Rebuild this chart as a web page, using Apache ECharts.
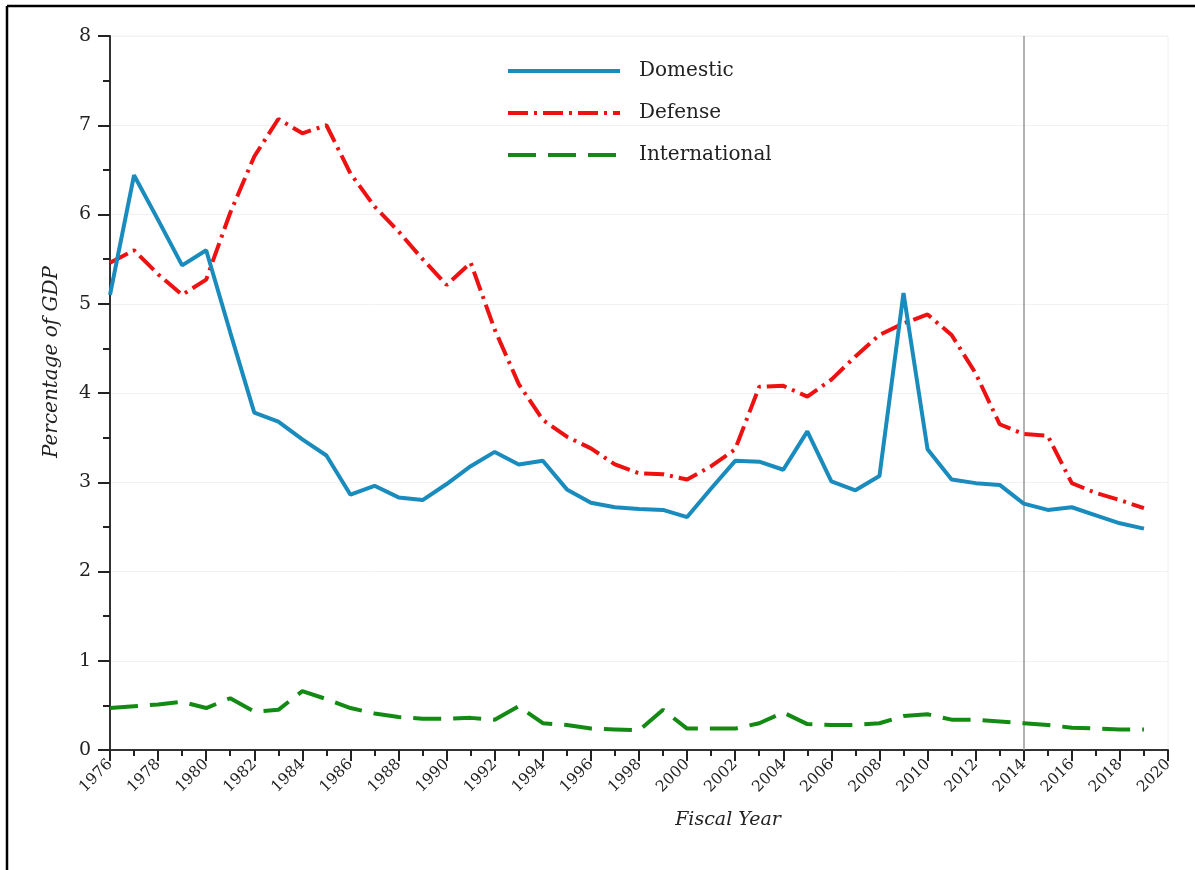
<!DOCTYPE html>
<html>
<head>
<meta charset="utf-8">
<script src="https://cdn.jsdelivr.net/npm/echarts@6/dist/echarts.min.js"></script>
<style>
html,body{margin:0;padding:0;background:#fff;}
#chart{width:1195px;height:870px;}
</style>
</head>
<body>
<div id="chart"></div>
<script>
const years = [1976,1977,1978,1979,1980,1981,1982,1983,1984,1985,1986,1987,1988,1989,1990,1991,1992,1993,1994,1995,1996,1997,1998,1999,2000,2001,2002,2003,2004,2005,2006,2007,2008,2009,2010,2011,2012,2013,2014,2015,2016,2017,2018,2019];
const domestic = [5.10,6.44,5.94,5.43,5.60,4.68,3.78,3.68,3.48,3.30,2.86,2.96,2.83,2.80,2.98,3.18,3.34,3.20,3.24,2.92,2.77,2.72,2.70,2.69,2.61,2.93,3.24,3.23,3.14,3.57,3.01,2.91,3.07,5.12,3.37,3.03,2.99,2.97,2.76,2.69,2.72,2.63,2.54,2.48];
const defense = [5.46,5.60,5.33,5.10,5.27,6.02,6.65,7.07,6.91,7.00,6.46,6.09,5.81,5.50,5.21,5.46,4.71,4.10,3.70,3.51,3.38,3.20,3.10,3.09,3.03,3.18,3.37,4.07,4.08,3.96,4.15,4.41,4.65,4.78,4.88,4.65,4.22,3.65,3.54,3.52,2.99,2.88,2.80,2.71];
const international = [0.47,0.49,0.51,0.54,0.47,0.58,0.43,0.45,0.66,0.57,0.47,0.41,0.37,0.35,0.35,0.36,0.34,0.49,0.30,0.28,0.24,0.23,0.22,0.45,0.24,0.24,0.24,0.30,0.42,0.29,0.28,0.28,0.30,0.38,0.40,0.34,0.34,0.32,0.30,0.28,0.25,0.24,0.23,0.23];
const seriesNames = ['Domestic','Defense','International'];
const referenceYear = 2014;
const xTitle = 'Fiscal Year';
const yTitle = 'Percentage of GDP';

const FONT = 'DejaVu Serif';
const pairs = arr => years.map((y,i)=>[y, arr[i]]);

const chart = echarts.init(document.getElementById('chart'), null, {renderer:'canvas'});
chart.setOption({
  animation:false,
  backgroundColor:'#fff',
  grid:{left:110,right:27,top:36,bottom:120,show:true,borderColor:'#f0f0f0',borderWidth:1},
  legend:{
    orient:'vertical',
    left:501, top:56,
    itemWidth:112, itemHeight:20, itemGap:22,
    itemStyle:{opacity:0},
    lineStyle:{width:4},
    textStyle:{fontFamily:FONT,fontSize:20,color:'#222',padding:[0,0,0,14]},
    data:seriesNames
  },
  xAxis:{
    type:'value', min:1976, max:2020, interval:2,
    axisLine:{show:true,lineStyle:{color:'#333',width:2}},
    axisTick:{show:true,length:11,lineStyle:{color:'#222',width:2}},
    minorTick:{show:true,splitNumber:2,length:6,lineStyle:{color:'#222',width:2}},
    splitLine:{show:false},
    axisLabel:{rotate:45,margin:12,fontFamily:FONT,fontSize:15.5,color:'#222',formatter:v=>String(v)}
  },
  yAxis:{
    type:'value', min:0, max:8, interval:1,
    axisLine:{show:true,lineStyle:{color:'#333',width:2}},
    axisTick:{show:true,length:12,lineStyle:{color:'#222',width:2}},
    minorTick:{show:true,splitNumber:2,length:7,lineStyle:{color:'#222',width:2}},
    splitLine:{show:true,lineStyle:{color:'#f2f2f2',width:1}},
    axisLabel:{margin:19,fontFamily:FONT,fontSize:19,color:'#222'}
  },
  series:[
    {name:seriesNames[0],type:'line',data:pairs(domestic),symbol:'none',
     lineStyle:{color:'#1a8bbd',width:4,type:'solid'},itemStyle:{color:'#1a8bbd'},z:4,
     markLine:{silent:true,symbol:['none','none'],label:{show:false},
       lineStyle:{color:'#999',width:1.5,type:'solid'},data:[{xAxis:referenceYear}],z:1}},
    {name:seriesNames[1],type:'line',data:pairs(defense),symbol:'none',
     lineStyle:{color:'#ee1111',width:4,type:[20,6,3,6]},itemStyle:{color:'#ee1111'},z:3},
    {name:seriesNames[2],type:'line',data:pairs(international),symbol:'none',
     lineStyle:{color:'#138a13',width:4,type:[28,12]},itemStyle:{color:'#138a13'},z:3}
  ],
  graphic:[
    {type:'text',x:52,y:362,rotation:Math.PI/2,
     style:{text:yTitle,fontFamily:FONT,fontStyle:'italic',fontSize:20,fill:'#222',textAlign:'center',textVerticalAlign:'middle'}},
    {type:'text',x:728,y:820,
     style:{text:xTitle,fontFamily:FONT,fontStyle:'italic',fontSize:19,fill:'#222',textAlign:'center',textVerticalAlign:'middle'}},
    {type:'line',shape:{x1:7,y1:6,x2:1195,y2:6},style:{stroke:'#000',lineWidth:2.5}},
    {type:'line',shape:{x1:7,y1:6,x2:7,y2:870},style:{stroke:'#000',lineWidth:2.5}}
  ]
});
</script>
</body>
</html>
